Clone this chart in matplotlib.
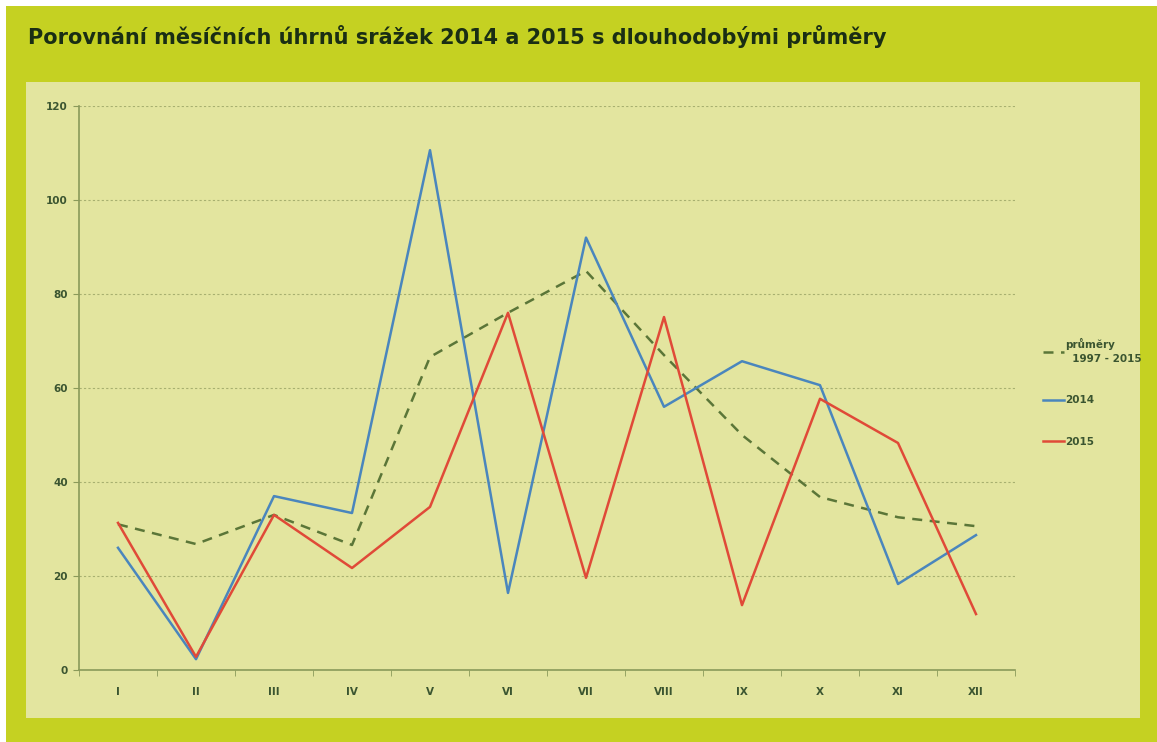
import numpy as np
import matplotlib
matplotlib.use('Agg')
import matplotlib.pyplot as plt

months = ['I', 'II', 'III', 'IV', 'V', 'VI', 'VII', 'VIII', 'IX', 'X', 'XI', 'XII']
avg_1997_2015 = [31.0, 26.8, 33.0, 26.6, 66.6, 76.0, 84.9, 67.0, 50.0, 36.8, 32.5, 30.6]
rain_2014 = [26.0, 2.3, 37.0, 33.4, 110.6, 16.4, 92.0, 56.0, 65.7, 60.6, 18.3, 28.7]
rain_2015 = [31.3, 2.8, 33.0, 21.7, 34.7, 76.0, 19.6, 75.1, 13.8, 57.7, 48.3, 11.9]

outer_bg = '#c5d122'
panel_bg = '#e3e59f'
text_col = '#3b5530'

W, H = 1157, 742
fig = plt.figure(figsize=(W / 100, H / 100), dpi=100)
fig.patch.set_facecolor('white')

# green frame (thin white edge at top/left), then light panel
bg = fig.add_axes([6 / W, 0, 1 - 6 / W, 1 - 6 / H])
bg.set_facecolor(outer_bg)
bg.set_xticks([]); bg.set_yticks([])
for s in bg.spines.values():
    s.set_visible(False)
panel = fig.add_axes([26 / W, 24 / H, 1114 / W, 636 / H])
panel.set_facecolor(panel_bg)
panel.set_xticks([]); panel.set_yticks([])
for s in panel.spines.values():
    s.set_visible(False)

fig.text(28 / W, 1 - 37 / H, 'Porovnání měsíčních úhrnů srážek 2014 a 2015 s dlouhodobými průměry',
         fontsize=15, fontweight='bold', color='#1a2e14', va='center', ha='left')

ax = fig.add_axes([79 / W, 72 / H, 936 / W, 564 / H])
ax.set_facecolor('none')

x = np.arange(len(months))
ax.plot(x, avg_1997_2015, color='#5b7638', lw=1.8, ls=(0, (4, 3)), label='průměry\n  1997 - 2015')
ax.plot(x, rain_2014, color='#4a86bd', lw=1.8, label='2014')
ax.plot(x, rain_2015, color='#e04a38', lw=1.8, label='2015')

ax.set_xlim(-0.5, len(months) - 0.5)
ax.set_ylim(0, 120)
ax.set_yticks(np.arange(0, 121, 20))
ax.set_xticks(x)
ax.set_xticklabels(months)
ax.set_xticks(np.arange(-0.5, len(months), 1), minor=True)
ax.tick_params(axis='x', which='major', length=0, pad=12)
ax.tick_params(axis='x', which='minor', length=4, color='#8a9a5a', direction='out')
ax.tick_params(axis='y', length=4, color='#8a9a5a', pad=4)
for lab in ax.get_xticklabels() + ax.get_yticklabels():
    lab.set_fontsize(7.5)
    lab.set_fontweight('bold')
    lab.set_color(text_col)

ax.grid(axis='y', color='#a8b070', ls=(0, (2, 2)), lw=0.8)
ax.set_axisbelow(True)
for s in ['top', 'right']:
    ax.spines[s].set_visible(False)
for s in ['left', 'bottom']:
    ax.spines[s].set_color('#8a9a5a')
    ax.spines[s].set_linewidth(1.2)

leg = ax.legend(loc='upper left', bbox_to_anchor=(1.02, 0.605), frameon=False,
                handlelength=2.0, handletextpad=0.1, labelspacing=3.0,
                prop={'size': 7.5, 'weight': 'bold'})
for t in leg.get_texts():
    t.set_color(text_col)
    t.set_linespacing(1.5)

fig.savefig('out.png', dpi=100, facecolor='white')
